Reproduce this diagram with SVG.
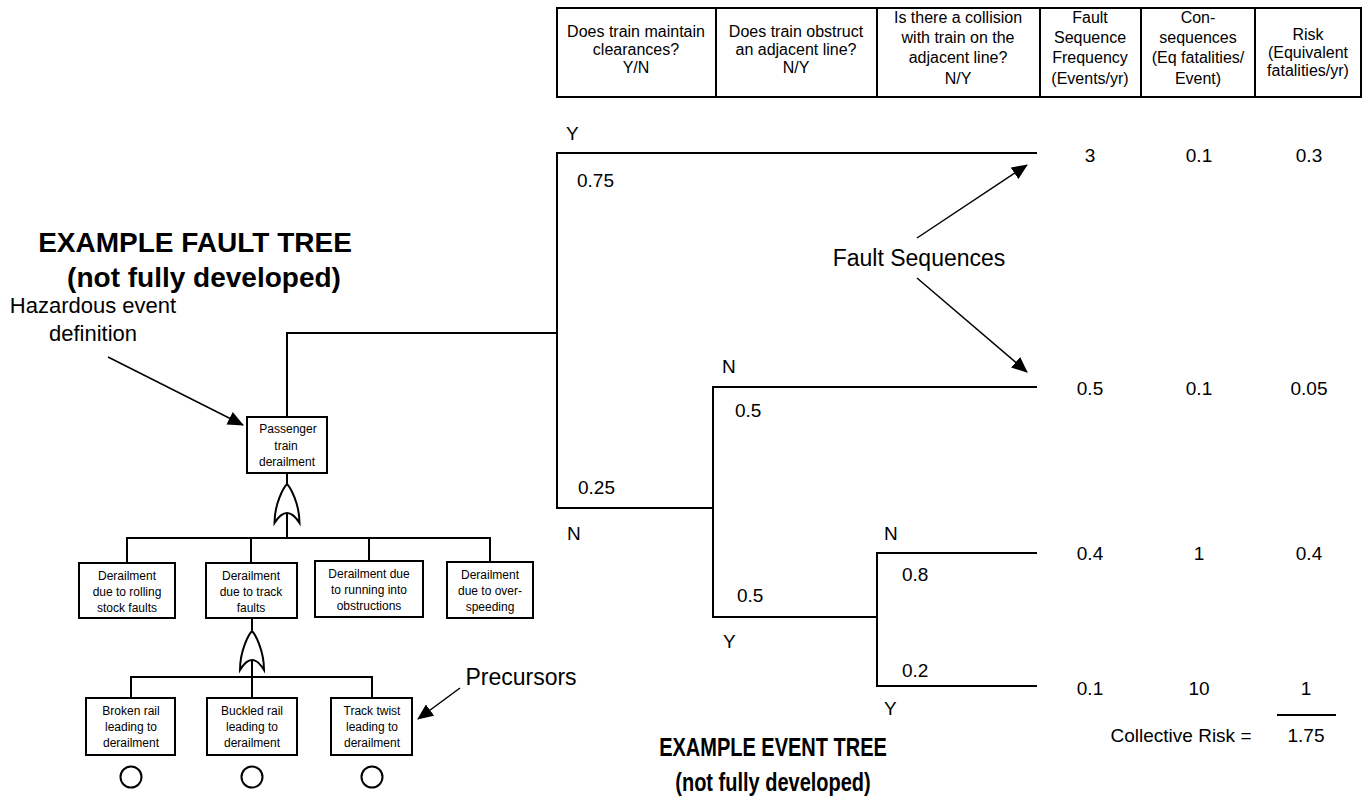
<svg xmlns="http://www.w3.org/2000/svg" width="1362" height="804" viewBox="0 0 1362 804">
<style>
text{font-family:"Liberation Sans",Arial,sans-serif;fill:#000}
.h{font-size:16px;text-anchor:middle}
.v{font-size:19px}
.vc{font-size:19px;text-anchor:middle}
.b{font-size:12px;text-anchor:middle}
.t{font-size:28px;font-weight:bold;text-anchor:middle}
.te{font-size:25px;font-weight:bold;text-anchor:middle}
.lbl{font-size:23px;text-anchor:middle}
.ln{fill:none;stroke:#000;stroke-width:2}
.box{fill:#fff;stroke:#000;stroke-width:2}
.thin{fill:none;stroke:#000;stroke-width:1.5}
</style>
<defs>
<marker id="ahb" markerWidth="16" markerHeight="14" refX="15" refY="7" orient="auto" markerUnits="userSpaceOnUse" viewBox="0 0 16 14">
<path d="M0,0 L16,7 L0,14 Z" fill="#000"/>
</marker>
</defs>
<rect width="1362" height="804" fill="#fff"/>

<g id="header">
<rect x="557" y="8" width="804" height="89" class="ln"/>
<line x1="716" y1="8" x2="716" y2="97" class="ln"/>
<line x1="877" y1="8" x2="877" y2="97" class="ln"/>
<line x1="1040" y1="8" x2="1040" y2="97" class="ln"/>
<line x1="1141" y1="8" x2="1141" y2="97" class="ln"/>
<line x1="1255" y1="8" x2="1255" y2="97" class="ln"/>
<text class="h" x="636" y="37">Does train maintain</text>
<text class="h" x="636" y="55">clearances?</text>
<text class="h" x="636" y="73">Y/N</text>
<text class="h" x="796" y="37">Does train obstruct</text>
<text class="h" x="796" y="55">an adjacent line?</text>
<text class="h" x="796" y="73">N/Y</text>
<text class="h" x="958" y="23">Is there a collision</text>
<text class="h" x="958" y="43">with train on the</text>
<text class="h" x="958" y="63">adjacent line?</text>
<text class="h" x="958" y="84">N/Y</text>
<text class="h" x="1090" y="23">Fault</text>
<text class="h" x="1090" y="43">Sequence</text>
<text class="h" x="1090" y="63">Frequency</text>
<text class="h" x="1090" y="84">(Events/yr)</text>
<text class="h" x="1198" y="23">Con-</text>
<text class="h" x="1198" y="43">sequences</text>
<text class="h" x="1198" y="63">(Eq fatalities/</text>
<text class="h" x="1198" y="84">Event)</text>
<text class="h" x="1308" y="40">Risk</text>
<text class="h" x="1308" y="58">(Equivalent</text>
<text class="h" x="1308" y="76">fatalities/yr)</text>
</g>

<g id="connectors">
<polyline class="ln" points="287,417 287,333 557,333"/>
<polyline class="ln" points="1037,153 557,153 557,508 713,508"/>
<polyline class="ln" points="1037,387 713,387 713,617 877,617"/>
<polyline class="ln" points="1037,553 877,553 877,686 1037,686"/>
<line class="ln" x1="287" y1="472" x2="287" y2="484"/>
<line class="ln" x1="287" y1="513" x2="287" y2="538"/>
<polyline class="ln" points="127,563 127,538 490,538 490,563"/>
<line class="ln" x1="251" y1="538" x2="251" y2="563"/>
<line class="ln" x1="369" y1="538" x2="369" y2="563"/>
<line class="ln" x1="252" y1="618" x2="252" y2="630"/>
<line class="ln" x1="252" y1="660" x2="252" y2="698"/>
<polyline class="ln" points="131,698 131,677 372,677 372,698"/>
<line class="thin" x1="108" y1="357" x2="243" y2="425" marker-end="url(#ahb)"/>
<line class="thin" x1="460" y1="688" x2="418" y2="719" marker-end="url(#ahb)"/>
<line class="thin" x1="917" y1="238" x2="1027" y2="165" marker-end="url(#ahb)"/>
<line class="thin" x1="917" y1="278" x2="1027" y2="372" marker-end="url(#ahb)"/>
</g>

<g id="event-tree-labels">
<text class="v" x="566" y="140">Y</text>
<text class="v" x="577" y="187">0.75</text>
<text class="v" x="578" y="494">0.25</text>
<text class="v" x="567" y="540">N</text>
<text class="v" x="722" y="373">N</text>
<text class="v" x="735" y="417">0.5</text>
<text class="v" x="737" y="602">0.5</text>
<text class="v" x="723" y="648">Y</text>
<text class="v" x="884" y="540">N</text>
<text class="v" x="902" y="581">0.8</text>
<text class="v" x="902" y="677">0.2</text>
<text class="v" x="884" y="715">Y</text>
</g>

<g id="results">
<text class="vc" x="1090" y="162">3</text>
<text class="vc" x="1199" y="162">0.1</text>
<text class="vc" x="1309" y="162">0.3</text>
<text class="vc" x="1090" y="395">0.5</text>
<text class="vc" x="1199" y="395">0.1</text>
<text class="vc" x="1309" y="395">0.05</text>
<text class="vc" x="1090" y="560">0.4</text>
<text class="vc" x="1199" y="560">1</text>
<text class="vc" x="1309" y="560">0.4</text>
<text class="vc" x="1090" y="695">0.1</text>
<text class="vc" x="1199" y="695">10</text>
<text class="vc" x="1306" y="695">1</text>
<line class="ln" x1="1277" y1="715" x2="1336" y2="715"/>
<text class="vc" x="1181" y="742">Collective Risk =</text>
<text class="vc" x="1306" y="742">1.75</text>
</g>

<g id="titles">
<text class="t" x="195" y="252">EXAMPLE FAULT TREE</text>
<text class="t" x="204" y="287">(not fully developed)</text>
<g transform="translate(773,0) scale(0.8,1)">
<text class="te" x="0" y="756">EXAMPLE EVENT TREE</text>
<text class="te" x="0" y="791">(not fully developed)</text>
</g>
<text class="lbl" x="919" y="266">Fault Sequences</text>
<text class="lbl" x="93" y="313" style="font-size:22px">Hazardous event</text>
<text class="lbl" x="93" y="341" style="font-size:22px">definition</text>
<text class="lbl" x="521" y="685">Precursors</text>
</g>

<g id="top-event">
<rect class="box" x="247" y="417" width="80" height="56"/>
<text class="b" x="288" y="433">Passenger</text>
<text class="b" x="286" y="450">train</text>
<text class="b" x="287" y="466">derailment</text>
</g>
<g id="or-gate-1">
<path class="ln" d="M274.5,523 C274.5,503 284,487 287,484 C290,487 299.5,503 299.5,523 Q287,503 274.5,523 Z"/>
</g>

<g id="ev-rolling-stock">
<rect class="box" x="79" y="563" width="96" height="55"/>
<text class="b" x="127" y="580">Derailment</text>
<text class="b" x="127" y="596">due to rolling</text>
<text class="b" x="127" y="612">stock faults</text>
</g>
<g id="ev-track">
<rect class="box" x="206" y="563" width="91" height="55"/>
<text class="b" x="251" y="580">Derailment</text>
<text class="b" x="251" y="596">due to track</text>
<text class="b" x="251" y="612">faults</text>
</g>
<g id="ev-obstructions">
<rect class="box" x="315" y="561" width="108" height="56"/>
<text class="b" x="369" y="578">Derailment due</text>
<text class="b" x="369" y="594">to running into</text>
<text class="b" x="369" y="610">obstructions</text>
</g>
<g id="ev-overspeed">
<rect class="box" x="447" y="562" width="86" height="56"/>
<text class="b" x="490" y="579">Derailment</text>
<text class="b" x="490" y="595">due to over-</text>
<text class="b" x="490" y="611">speeding</text>
</g>
<g id="or-gate-2">
<path class="ln" d="M240,670 C240,650 249,634 252,631 C255,634 264,650 264,670 Q252,650 240,670 Z"/>
</g>

<g id="bp-broken">
<rect class="box" x="86" y="698" width="89" height="57"/>
<text class="b" x="131" y="715">Broken rail</text>
<text class="b" x="131" y="731">leading to</text>
<text class="b" x="131" y="747">derailment</text>
<circle class="ln" cx="131" cy="777" r="10.5"/>
</g>
<g id="bp-buckled">
<rect class="box" x="207" y="698" width="90" height="57"/>
<text class="b" x="252" y="715">Buckled rail</text>
<text class="b" x="252" y="731">leading to</text>
<text class="b" x="252" y="747">derailment</text>
<circle class="ln" cx="252" cy="777" r="10.5"/>
</g>
<g id="bp-twist">
<rect class="box" x="331" y="698" width="81" height="57"/>
<text class="b" x="372" y="715">Track twist</text>
<text class="b" x="372" y="731">leading to</text>
<text class="b" x="372" y="747">derailment</text>
<circle class="ln" cx="372" cy="777" r="10.5"/>
</g>
</svg>
